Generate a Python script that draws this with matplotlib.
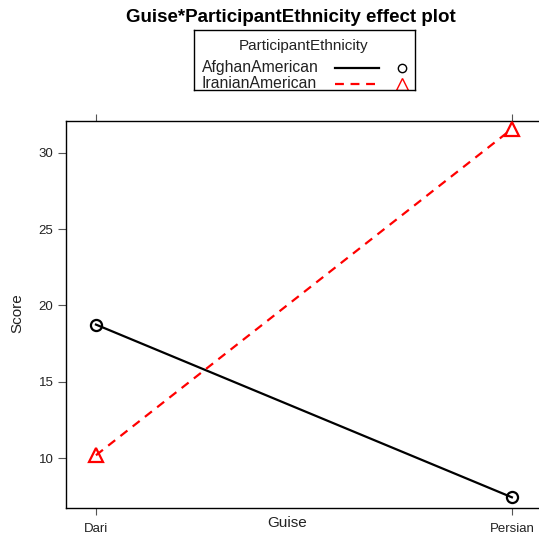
import matplotlib.pyplot as plt
from matplotlib.lines import Line2D

plt.rcParams['font.family'] = ['Liberation Sans', 'DejaVu Sans']

guise = ['Dari', 'Persian']
afghan_score = [18.75, 7.45]
iranian_score = [10.2, 31.55]
yticks = [10, 15, 20, 25, 30]

fig = plt.figure(figsize=(5.39, 5.38), dpi=100)
W, H = 539, 538
ax = fig.add_axes([66 / W, 1 - 508 / H, (541 - 66) / W, (508 - 121) / H])

xs = [1, 2]
ax.plot(xs, afghan_score, color='black', lw=1.6, marker='o', ms=8,
        mfc='none', mew=1.6, clip_on=False, zorder=3)
ax.plot(xs, iranian_score, color='red', lw=1.6, ls=(0, (4, 3)), marker='^',
        ms=10, mfc='none', mew=1.6, clip_on=False, zorder=3)

ax.set_xlim(0.928, 2.07)
ax.set_ylim(6.75, 32.07)
ax.set_xticks(xs)
ax.set_xticklabels(guise, fontsize=9.5, color='#222222')
ax.set_yticks(yticks)
ax.set_yticklabels([str(v) for v in yticks], fontsize=9.5, color='#222222')
ax.tick_params(axis='x', which='both', direction='out', length=5, color='#555555',
               top=True, labeltop=False, pad=6)
ax.tick_params(axis='y', direction='out', length=6, color='#555555', pad=3)
for s in ax.spines.values():
    s.set_linewidth(1.0)
    s.set_color('black')

fig.text(287.5 / W, 1 - 523 / H, 'Guise', ha='center', va='center', fontsize=11,
         color='#222222')
fig.text(17 / W, 1 - 313 / H, 'Score', ha='center', va='center', fontsize=11,
         rotation=90, color='#222222')
fig.text(291 / W, 1 - 18 / H, 'Guise*ParticipantEthnicity effect plot',
         ha='center', va='center', fontsize=13.5, fontweight='bold')

# key box above the panel
lg = fig.add_axes([194 / W, 1 - 90 / H, (415 - 194) / W, (90 - 30) / H])
lg.set_xlim(194, 415)
lg.set_ylim(90, 30)
lg.set_xticks([])
lg.set_yticks([])
for s in lg.spines.values():
    s.set_linewidth(1.0)
lg.text(304, 46, 'ParticipantEthnicity', ha='center', va='center', fontsize=11,
        color='#222222')
names = ['AfghanAmerican', 'IranianAmerican']
styles = [('black', '-', 'o'), ('red', (0, (4, 3)), '^')]
for i, (name, (c, ls, m)) in enumerate(zip(names, styles)):
    yy = 67.5 + i * 16.5
    lg.text(202, yy, name, ha='left', va='center', fontsize=11.3, color='#222222',
            clip_on=False)
    lg.add_line(Line2D([335, 379], [yy, yy], color=c, ls=ls, lw=1.6))
    lg.add_line(Line2D([402], [yy], color=c, marker=m, ms=6 if m == 'o' else 8,
                       mfc='none', mew=1.0))

fig.savefig('out.png', dpi=100)
